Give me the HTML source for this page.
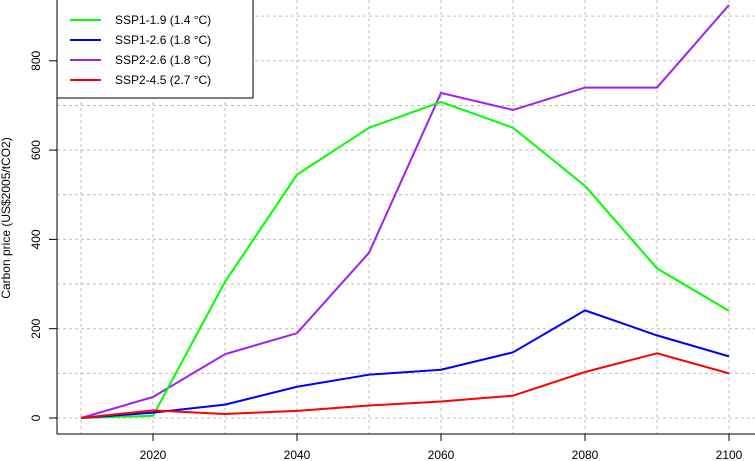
<!DOCTYPE html>
<html><head><meta charset="utf-8"><style>
body{margin:0;background:#fff}
svg{display:block;font-family:"Liberation Sans",Arial,sans-serif}
</style></head><body>
<svg id="chart" width="755" height="461" viewBox="0 0 755 461" xmlns="http://www.w3.org/2000/svg">
<g id="grid"></g>
<g id="series"></g>
<g id="axes"></g>
<text x="10" y="218" font-size="12" text-anchor="middle" transform="rotate(-90 10 218)">Carbon price (US$2005/tCO2)</text>
<g id="legend"></g>
</svg>
<script>
const years = [2010,2020,2030,2040,2050,2060,2070,2080,2090,2100];
const ssp119 = [0,5,305,545,650,708,650,520,335,240];
const ssp126 = [0,12,30,70,97,108,147,241,185,138];
const ssp226 = [0,47,143,190,370,728,690,740,740,925];
const ssp245 = [0,17,9,16,28,37,50,103,145,100];
const seriesNames = ["SSP1-1.9 (1.4 °C)","SSP1-2.6 (1.8 °C)","SSP2-2.6 (1.8 °C)","SSP2-4.5 (2.7 °C)"];
const seriesColors = ["#00ff00","#0000ff","#a020f0","#ff0000"];
const yTicks = [0,200,400,600,800];
const xTicks = [2020,2040,2060,2080,2100];

const NS="http://www.w3.org/2000/svg";
function X(v){return 153+(v-2020)*7.2;}
function Y(v){return 418-v*0.4465;}
function mk(tag,attrs,parent){const e=document.createElementNS(NS,tag);for(const k in attrs)e.setAttribute(k,attrs[k]);parent.appendChild(e);return e;}

const grid=document.getElementById('grid');
for(let yr=2010;yr<=2100;yr+=10){
  const l=mk('line',{x1:X(yr),x2:X(yr),y1:0,y2:434,stroke:'#bebebe','stroke-dasharray':'3,3'},grid);
  
  
}
for(let v=0;v<=900;v+=100){
  const l=mk('line',{x1:57,x2:755,y1:Y(v),y2:Y(v),stroke:'#bebebe','stroke-dasharray':'3,3'},grid);
  
  
}

const sg=document.getElementById('series');
const all=[ssp119,ssp126,ssp226,ssp245];
const keys=['ssp1-1.9-line','ssp1-2.6-line','ssp2-2.6-line','ssp2-4.5-line'];
[2,0,1,3].forEach(i=>{
  const pts=years.map((yr,j)=>X(yr)+','+Y(all[i][j])).join(' ');
  const p=mk('polyline',{points:pts,fill:'none',stroke:seriesColors[i],'stroke-width':2},sg);
  
  
});

const ax=document.getElementById('axes');
let a=mk('line',{x1:57,x2:57,y1:0,y2:434.5,stroke:'#000'},ax);


a=mk('line',{x1:56.5,x2:755,y1:434,y2:434,stroke:'#000'},ax);


yTicks.forEach(v=>{
  const t=mk('line',{x1:49,x2:57,y1:Y(v),y2:Y(v),stroke:'#000'},ax);
  
  
  const tx=mk('text',{x:40,y:Y(v),'font-size':12,'text-anchor':'middle',transform:`rotate(-90 40 ${Y(v)})`},ax);
  tx.textContent=v;
  
  
});
xTicks.forEach(v=>{
  const t=mk('line',{x1:X(v),x2:X(v),y1:434,y2:441,stroke:'#000'},ax);
  
  
  const tx=mk('text',{x:X(v),y:459,'font-size':12,'text-anchor':'middle'},ax);
  tx.textContent=v;
  
  
});

const lg=document.getElementById('legend');
let r=mk('rect',{x:57,y:-1,width:196,height:99,fill:'#fff',stroke:'#000'},lg);


seriesNames.forEach((n,i)=>{
  const y=20+i*20;
  const l=mk('line',{x1:70,x2:101,y1:y,y2:y,stroke:seriesColors[i],'stroke-width':2},lg);
  
  
  const t=mk('text',{x:115,y:y+4,'font-size':12},lg);
  t.textContent=n;
  
  
});
</script>
</body></html>
